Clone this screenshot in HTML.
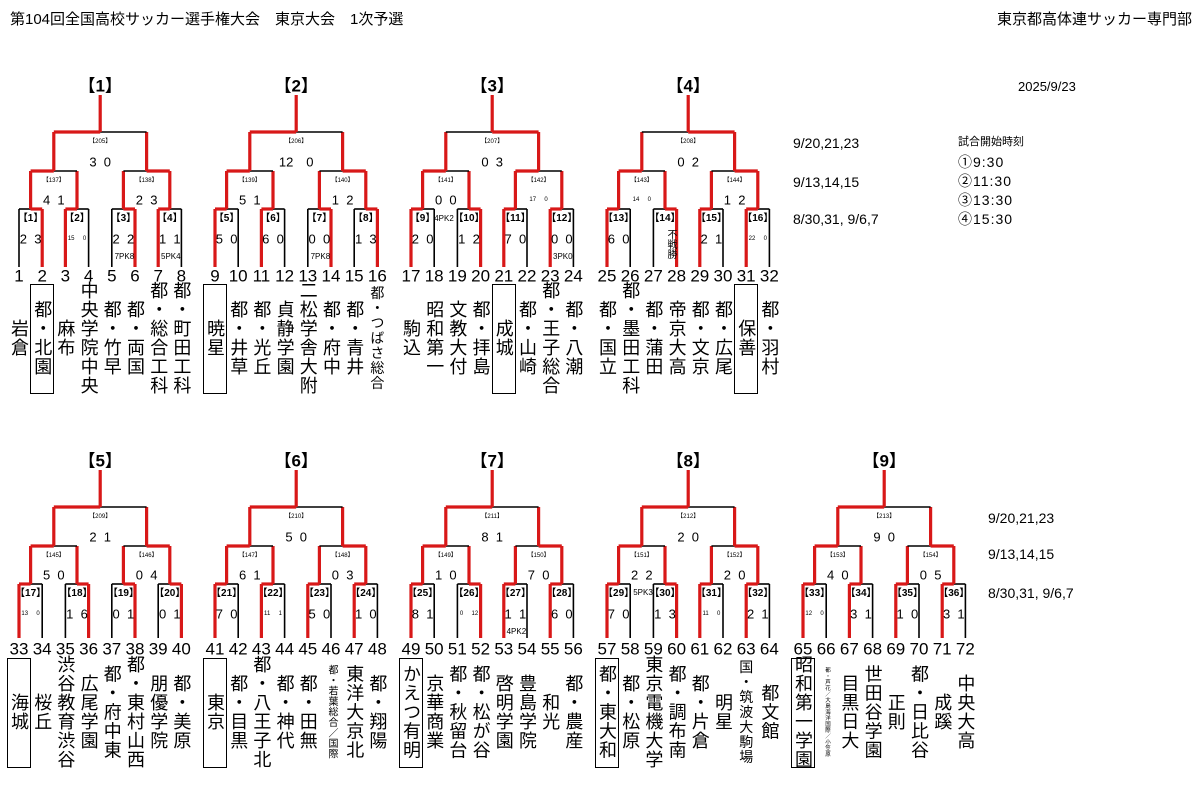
<!DOCTYPE html>
<html><head><meta charset="utf-8">
<style>
body{margin:0;width:1199px;height:793px;background:#fff;position:relative;overflow:hidden;font-family:"Liberation Sans","Noto Sans CJK JP",sans-serif;color:#000}
.t{position:absolute;white-space:nowrap;transform:translate(-50%,-50%);line-height:1}
.v{position:absolute;writing-mode:vertical-rl;text-orientation:upright;transform:translate(-50%,-50%);line-height:1;white-space:nowrap}
.a{position:absolute;white-space:nowrap;line-height:1}
.box{position:absolute;border:1.5px solid #000;box-sizing:border-box}
svg{position:absolute;left:0;top:0}
</style></head><body>
<div class="a" style="left:10px;top:12px;font-size:15px">第104回全国高校サッカー選手権大会　東京大会　1次予選</div>
<div class="a" style="right:7px;top:12px;font-size:15px">東京都高体連サッカー専門部</div>
<div class="a" style="left:1018px;top:80px;font-size:13px">2025/9/23</div>
<div class="a" style="left:793px;top:136px;font-size:14px">9/20,21,23</div>
<div class="a" style="left:793px;top:175px;font-size:14px">9/13,14,15</div>
<div class="a" style="left:793px;top:212px;font-size:14px">8/30,31, 9/6,7</div>
<div class="a" style="left:958px;top:137px;font-size:11px">試合開始時刻</div>
<div class="a" style="left:958px;top:155px;font-size:14px;letter-spacing:1px">①9:30</div>
<div class="a" style="left:958px;top:174px;font-size:14px;letter-spacing:1px">②11:30</div>
<div class="a" style="left:958px;top:193px;font-size:14px;letter-spacing:1px">③13:30</div>
<div class="a" style="left:958px;top:212px;font-size:14px;letter-spacing:1px">④15:30</div>
<div class="a" style="left:988px;top:511px;font-size:14px">9/20,21,23</div>
<div class="a" style="left:988px;top:547px;font-size:14px">9/13,14,15</div>
<div class="a" style="left:988px;top:586px;font-size:14px">8/30,31, 9/6,7</div>
<svg id="s" width="1199" height="793"></svg>
<div id="c"></div>
<script>
(function(){
var names=["岩倉","都・北園","麻布","中央学院中央","都・竹早","都・両国","都・総合工科","都・町田工科","暁星","都・井草","都・光丘","貞静学園","二松学舎大附","都・府中","都・青井","都・つばさ総合","駒込","昭和第一","文教大付","都・拝島","成城","都・山崎","都・王子総合","都・八潮","都・国立","都・墨田工科","都・蒲田","帝京大高","都・文京","都・広尾","保善","都・羽村",
"海城","桜丘","渋谷教育渋谷","広尾学園","都・府中東","都・東村山西","朋優学院","都・美原","東京","都・目黒","都・八王子北","都・神代","都・田無","都・若葉総合／国際","東洋大京北","都・翔陽","かえつ有明","京華商業","都・秋留台","都・松が谷","啓明学園","豊島学院","和光","都・農産","都・東大和","都・松原","東京電機大学","都・調布南","都・片倉","明星","国・筑波大駒場","都文館","昭和第一学園","都・芦花／大島海洋国際／小笠原","目黒日大","世田谷学園","正則","都・日比谷","成蹊","中央大高"];
var small={16:14,46:10,66:5.5,63:14};
var boxed=[2,9,21,31,33,41,49,57,65];
var W=[[[1,0,1,0],[0,1],0],[[0,0,1,1],[0,1],0],[[0,1,0,0],[0,0],1],[[0,1,0,0],[0,1],1],
[[0,1,1,1],[0,1],0],[[0,0,0,0],[0,1],0],[[0,1,0,0],[0,1],0],[[0,1,0,0],[0,1],0],[[0,0,0,0],[0,1],0]];
var r1s=[["2 3","15 0","2 2","1 1"],["5 0","6 0","0 0","1 3"],["2 0","1 2","7 0","0 0"],["6 0","","2 1","22 0"],
["13 0","1 6","0 1","0 1"],["7 0","11 1","5 0","1 0"],["8 1","0 12","1 1","6 0"],["7 0","1 3","11 0","2 1"],["12 0","3 1","1 0","3 1"]];
var pk=[["","","7PK8","5PK4"],["","","7PK8",""],["","","","3PK0"],["","","",""],["","","",""],["","","",""],["","","4PK2",""],["","","",""],["","","",""]];
var r2s=[["4 1","2 3"],["5 1","1 2"],["0 0","17 0"],["14 0","1 2"],["5 0","0 4"],["6 1","0 3"],["1 0","7 0"],["2 2","2 0"],["4 0","0 5"]];
var r3s=["3 0","12　0","0 3","0 2","2 1","5 0","8 1","2 0","9 0"];
var r2n=[[137,138],[139,140],[141,142],[143,144],[145,146],[147,148],[149,150],[151,152],[153,154]];
var r3n=[205,206,207,208,209,210,211,212,213];
var S='',H='';
function ln(x1,y1,x2,y2,red){S+='<line x1="'+x1+'" y1="'+y1+'" x2="'+x2+'" y2="'+y2+'" stroke="'+(red?'#d81818':'#000')+'" stroke-width="'+(red?3.2:1.6)+'"/>';}
function tx(x,y,s,fs,extra){H+='<div class="t" style="left:'+x+'px;top:'+y+'px;font-size:'+fs+'px;'+(extra||'')+'">'+s+'</div>';}
for(var b=0;b<9;b++){
 var isTop=b<4, bi=isTop?b:b-4, dy=isTop?0:375;
 var X=[];for(var i=0;i<8;i++)X.push(19+bi*196+i*23.2);
 var yT=95+dy,y3=132+dy,y2=171+dy,y1=209+dy,yL=(isTop?267:638);
 var w=W[b];
 var m1=[];
 for(var m=0;m<4;m++){
  var a=X[2*m],c=X[2*m+1],mid=(a+c)/2;m1.push(mid);
  var wl=w[0][m]==0;
  ln(a,y1,a,yL,wl);ln(c,y1,c,yL,!wl);
  ln(a,y1,mid,y1,wl);ln(mid,y1,c,y1,!wl);
 }
 var m2=[];
 for(var m=0;m<2;m++){
  var a=m1[2*m],c=m1[2*m+1],mid=(a+c)/2;m2.push(mid);
  var wl=w[1][m]==0;
  ln(a,y2,a,y1,true);ln(c,y2,c,y1,true);
  ln(a,y2,mid,y2,wl);ln(mid,y2,c,y2,!wl);
 }
 var a=m2[0],c=m2[1],mid=(a+c)/2,wl=w[2]==0;
 ln(a,y3,a,y2,true);ln(c,y3,c,y2,true);
 ln(a,y3,mid,y3,wl);ln(mid,y3,c,y3,!wl);
 ln(mid,yT,mid,y3,true);
 tx(mid,yT-9,'【'+(b+1)+'】',17,'font-weight:bold');
 tx(mid,y3+10,'【'+r3n[b]+'】',6);
 tx(mid,y3+30,r3s[b].replace(' ','&nbsp;&nbsp;'),13);
 for(var m=0;m<2;m++){
  tx(m2[m],y2+10,'【'+r2n[b][m]+'】',6);
  var s=r2s[b][m],f=s.length>3?6:13;
  tx(m2[m],y2+29,s.replace(' ',f<10?'&nbsp;&nbsp;&nbsp;&nbsp;&nbsp;':'&nbsp;&nbsp;'),f);
 }
 for(var m=0;m<4;m++){
  tx(m1[m],y1+10,'【'+(b*4+m+1)+'】',10,'font-weight:bold');
  var s=r1s[b][m];
  if(s){var f=s.length>3?6:13;tx(m1[m],y1+30,s.replace(' ',f<10?'&nbsp;&nbsp;&nbsp;&nbsp;&nbsp;':'&nbsp;&nbsp;'),f);}
  if(pk[b][m])tx(m1[m]+1,y1+48,pk[b][m],8);
 }
 for(var i=0;i<8;i++){
  var n=b<4?b*8+i+1:32+(b-4)*8+i+1;
  tx(X[i],(isTop?276:649),n,17);
  var cy=isTop?338:712, fs=small[n]||18;
  H+='<div class="v" style="left:'+X[i]+'px;top:'+cy+'px;font-size:'+fs+'px;letter-spacing:'+(fs>12?1:0.5)+'px">'+names[n-1]+'</div>';
  if(boxed.indexOf(n)>=0){H+='<div class="box" style="left:'+(X[i]-12)+'px;top:'+(isTop?284:658)+'px;width:24px;height:110px"></div>';}
 }
}
tx(444,219,'4PK2',8);
tx(643,593,'5PK3',8);
H+='<div class="v" style="left:670px;top:244px;font-size:10px">不戦勝</div>';
document.getElementById('s').innerHTML=S;
document.getElementById('c').innerHTML=H;
})();
</script>
</body></html>
